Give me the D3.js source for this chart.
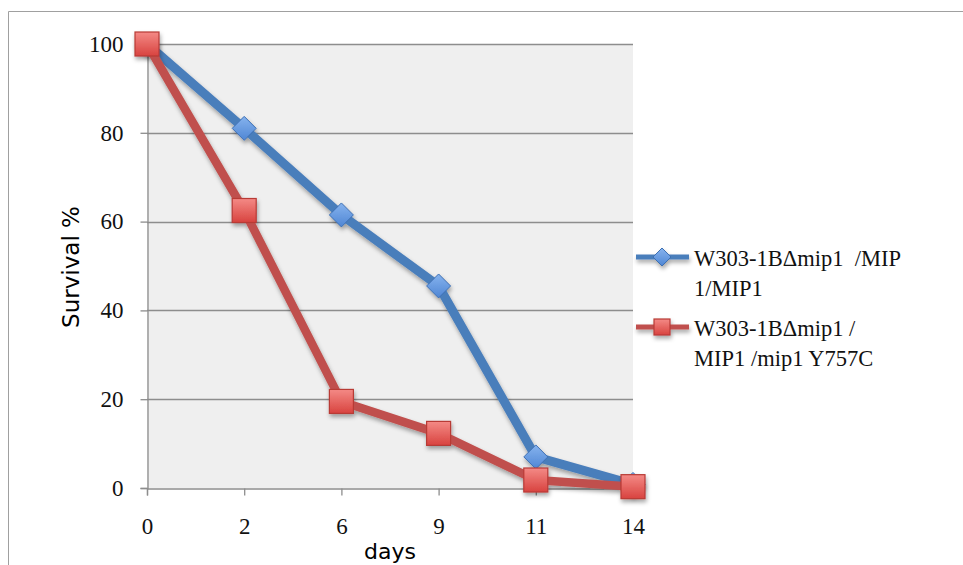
<!DOCTYPE html>
<html>
<head>
<meta charset="utf-8">
<script src="https://cdn.jsdelivr.net/npm/d3@7/dist/d3.min.js"></script>
<style>
  html, body { margin: 0; padding: 0; background: #fff; }
  svg { display: block; }
</style>
</head>
<body>
<svg id="chart" width="963" height="565"></svg>
<script>
// Survival (%) of two yeast strains over time
const days = ["0", "2", "6", "9", "11", "14"];
const yTicks = [0, 20, 40, 60, 80, 100];
const seriesNames = [
  ["W303-1B\u0394mip1\u00a0\u00a0/MIP", "1/MIP1"],
  ["W303-1B\u0394mip1 /", "MIP1 /mip1 Y757C"]
];
const wildTypeValues = [100, 81, 61.5, 45.5, 7, 0.8];
const mutantValues = [100, 62.5, 19.5, 12.3, 1.8, 0.3];

const svg = d3.select("#chart");
const margin = { left: 147, right: 330, top: 44, bottom: 77 };
const W = 963, H = 565;

const x = d3.scalePoint().domain(days).range([margin.left, W - margin.right]).padding(0);
const y = d3.scaleLinear().domain([0, 100]).range([H - margin.bottom, margin.top]);

const defs = svg.append("defs");
const shadow = defs.append("filter").attr("id", "shadow")
  .attr("x", "-50%").attr("y", "-50%").attr("width", "200%").attr("height", "200%");
shadow.append("feDropShadow").attr("dx", 1).attr("dy", 3).attr("stdDeviation", 2)
  .attr("flood-color", "#000").attr("flood-opacity", 0.35);

const redGrad = defs.append("linearGradient").attr("id", "redFill")
  .attr("x1", 0).attr("y1", 0).attr("x2", 0).attr("y2", 1);
redGrad.append("stop").attr("offset", "0%").attr("stop-color", "#f48a86");
redGrad.append("stop").attr("offset", "100%").attr("stop-color", "#d8433f");
const blueGrad = defs.append("linearGradient").attr("id", "blueFill")
  .attr("x1", 0).attr("y1", 0).attr("x2", 0).attr("y2", 1);
blueGrad.append("stop").attr("offset", "0%").attr("stop-color", "#86b3ee");
blueGrad.append("stop").attr("offset", "100%").attr("stop-color", "#4f86d4");

// outer chart frame
svg.append("path")
  .attr("d", "M8.5,565 L8.5,11.5 L963,11.5")
  .attr("fill", "none").attr("stroke", "#a0a0a0").attr("stroke-width", 1);

// plot area
const x0 = x(days[0]), x1 = x(days[days.length - 1]);
svg.append("rect")
  .attr("x", x0).attr("y", y(100))
  .attr("width", x1 - x0).attr("height", y(0) - y(100))
  .attr("fill", "#efefef");

// horizontal gridlines
svg.append("g").selectAll("line").data(yTicks.filter(d => d > 0)).join("line")
  .attr("x1", x0).attr("x2", x1)
  .attr("y1", d => Math.round(y(d)) + 0.5).attr("y2", d => Math.round(y(d)) + 0.5)
  .attr("stroke", "#8d8d8d").attr("stroke-width", 1.3);

const serif = "'Liberation Serif', 'Times New Roman', serif";
const sans = "'DejaVu Sans', Verdana, sans-serif";

// y axis
const yAxis = svg.append("g")
  .attr("transform", `translate(${x0 + 0.5},0)`)
  .call(d3.axisLeft(y).tickValues(yTicks).tickSize(7).tickPadding(17));
yAxis.select(".domain").attr("stroke", "#8d8d8d").attr("stroke-width", 1.3);
yAxis.selectAll(".tick line").attr("stroke", "#8d8d8d").attr("stroke-width", 1.3);
yAxis.selectAll(".tick text")
  .attr("font-family", serif).attr("font-size", 23).attr("fill", "#111");

// x axis
const xAxis = svg.append("g")
  .attr("transform", `translate(0,${Math.round(y(0)) + 0.5})`)
  .call(d3.axisBottom(x).tickSize(7).tickPadding(22));
xAxis.select(".domain").attr("stroke", "#8d8d8d").attr("stroke-width", 1.3);
xAxis.selectAll(".tick line").attr("stroke", "#8d8d8d").attr("stroke-width", 1.3);
xAxis.selectAll(".tick text")
  .attr("font-family", serif).attr("font-size", 23).attr("fill", "#111");

// axis titles
svg.append("text")
  .attr("transform", `translate(79,${(y(0) + y(100)) / 2 + 1}) rotate(-90)`)
  .attr("text-anchor", "middle")
  .attr("font-family", sans).attr("font-size", 23).attr("fill", "#000")
  .text("Survival %");
svg.append("text")
  .attr("x", (x0 + x1) / 2).attr("y", 559)
  .attr("text-anchor", "middle")
  .attr("font-family", sans).attr("font-size", 22).attr("fill", "#000")
  .text("days");

const line = d3.line().x((d, i) => x(days[i])).y(d => y(d));

function diamond(g, cx, cy, r) {
  g.append("path")
    .attr("d", `M${cx},${cy - r} L${cx + r},${cy} L${cx},${cy + r} L${cx - r},${cy} Z`)
    .attr("fill", "url(#blueFill)").attr("stroke", "#3d6fb3").attr("stroke-width", 1);
}
function square(g, cx, cy, s) {
  g.append("rect")
    .attr("x", cx - s / 2).attr("y", cy - s / 2).attr("width", s).attr("height", s)
    .attr("fill", "url(#redFill)").attr("stroke", "#b83a36").attr("stroke-width", 1.2);
}

// wild-type series
const gBlue = svg.append("g").attr("filter", "url(#shadow)");
gBlue.append("path").datum(wildTypeValues).attr("d", line)
  .attr("fill", "none").attr("stroke", "#4a7ebb").attr("stroke-width", 9)
  .attr("stroke-linejoin", "round");
wildTypeValues.forEach((v, i) => diamond(gBlue, x(days[i]), y(v), 12));

// mutant series
const gRed = svg.append("g").attr("filter", "url(#shadow)");
gRed.append("path").datum(mutantValues).attr("d", line)
  .attr("fill", "none").attr("stroke", "#c0504d").attr("stroke-width", 8.5)
  .attr("stroke-linejoin", "round");
mutantValues.forEach((v, i) => square(gRed, x(days[i]), y(v), 24));

// legend
const legend = svg.append("g");
const legendRows = [
  { y: 257, color: "#4a7ebb", marker: "diamond", name: seriesNames[0] },
  { y: 327, color: "#c0504d", marker: "square", name: seriesNames[1] }
];
legendRows.forEach(r => {
  const g = legend.append("g").attr("filter", "url(#shadow)");
  g.append("line").attr("x1", 636).attr("x2", 689).attr("y1", r.y).attr("y2", r.y)
    .attr("stroke", r.color).attr("stroke-width", 5);
  if (r.marker === "diamond") diamond(g, 662, r.y, 9);
  else square(g, 662, r.y, 16);
  const t = legend.append("text")
    .attr("font-family", serif).attr("font-size", 22.5).attr("fill", "#111");
  r.name.forEach((s, k) => {
    t.append("tspan").attr("x", 694).attr("y", r.y + 9 + k * 30).text(s);
  });
});
</script>
</body>
</html>
